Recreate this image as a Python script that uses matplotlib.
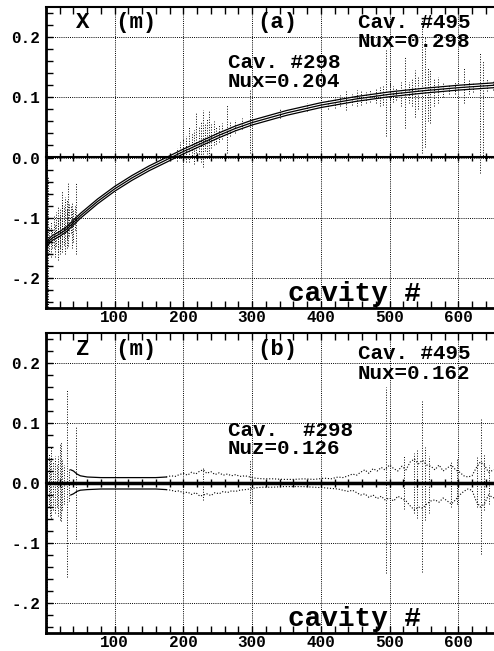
import numpy as np
import matplotlib
matplotlib.use('Agg')
import matplotlib.pyplot as plt
from matplotlib.ticker import MultipleLocator

# --- panel (a): horizontal centroid X along the linac ---
x_cav = [0, 5, 10, 20, 30, 40, 50, 75, 100, 125, 150, 175, 200, 225, 250, 275,
         300, 350, 400, 450, 500, 550, 600, 652]
x_centroid = [-0.148, -0.138, -0.133, -0.127, -0.119, -0.108, -0.097, -0.073,
              -0.052, -0.034, -0.018, -0.004, 0.010, 0.023, 0.036, 0.048,
              0.058, 0.074, 0.087, 0.097, 0.105, 0.111, 0.116, 0.120]
x_band = 0.004  # half width of the solid band around the centroid

# dotted envelope of the mismatched beam (cavity, upper, lower)
xn_cav = [1, 3, 5, 7, 9, 11, 13, 15, 17, 18, 20, 21, 23, 24, 26, 28, 30, 31, 32, 34,
          36, 38, 40, 42, 44,
          190, 195, 200, 204, 208, 212, 215, 219, 222, 225, 229, 232, 235, 237, 240,
          244, 248, 252, 256, 263, 268, 275, 285, 297,
          340, 380, 410, 420, 428, 437, 445, 452, 458, 465, 472, 480, 486, 490, 495,
          500, 505, 510, 516, 523, 528, 533, 537, 542, 547, 552, 556, 559, 564, 571,
          578, 586, 595, 608, 615, 622, 632, 636, 642, 650]
xn_hi = [0.030, -0.033, -0.115, -0.105, -0.120, -0.095, -0.110, -0.091, -0.100, -0.083,
         -0.095, -0.086, -0.075, -0.056, -0.080, -0.066, -0.070, -0.085, -0.040, -0.075,
         -0.080, -0.075, -0.085, -0.080, -0.040,
         0.015, 0.025, 0.030, 0.035, 0.051, 0.040, 0.045, 0.075, 0.050, 0.060, 0.079,
         0.055, 0.065, 0.078, 0.055, 0.060, 0.052, 0.055, 0.058, 0.088, 0.060, 0.062,
         0.065, 0.112,
         0.080, 0.090, 0.098, 0.100, 0.103, 0.112, 0.105, 0.112, 0.110, 0.108, 0.112,
         0.115, 0.118, 0.120, 0.178, 0.129, 0.118, 0.115, 0.125, 0.167, 0.125, 0.130,
         0.145, 0.135, 0.228, 0.200, 0.150, 0.145, 0.130, 0.134, 0.125, 0.122, 0.125,
         0.150, 0.128, 0.125, 0.173, 0.160, 0.130, 0.128]
xn_lo = [-0.300, -0.300, -0.160, -0.165, -0.150, -0.150, -0.165, -0.147, -0.170, -0.157,
         -0.150, -0.160, -0.140, -0.157, -0.145, -0.160, -0.150, -0.135, -0.147, -0.130,
         -0.125, -0.150, -0.140, -0.120, -0.160,
         -0.005, 0.000, -0.005, -0.008, -0.007, 0.000, -0.010, 0.000, 0.005, -0.008,
         -0.015, 0.010, 0.005, 0.003, 0.015, 0.020, 0.022, 0.025, 0.030, 0.008, 0.035,
         0.040, 0.048, 0.008,
         0.066, 0.078, 0.080, 0.082, 0.085, 0.079, 0.088, 0.085, 0.088, 0.090, 0.092,
         0.090, 0.085, 0.088, 0.035, 0.079, 0.092, 0.095, 0.085, 0.049, 0.090, 0.085,
         0.068, 0.080, 0.008, 0.018, 0.060, 0.057, 0.085, 0.090, 0.100, 0.105, 0.105,
         0.090, 0.105, 0.108, -0.025, 0.000, 0.110, 0.112]

# --- panel (b): vertical Z ---
z_smooth_cav = [36, 40, 45, 50, 60, 80, 100, 130, 160, 175]
z_smooth_hi = [0.022, 0.020, 0.015, 0.012, 0.010, 0.009, 0.009, 0.009, 0.009, 0.010]
z_smooth_lo = [-0.020, -0.018, -0.014, -0.012, -0.011, -0.010, -0.010, -0.010, -0.010, -0.011]

z_env_cav = [175, 182, 188, 194, 200, 206, 212, 218, 224, 229, 234, 240, 246, 252, 258,
             264, 270, 276, 282, 290, 297, 305, 315, 330, 345, 360, 375, 390, 405, 415,
             425, 432, 440, 446, 452, 458, 464, 470, 476, 482, 488, 493, 500, 506, 512,
             518, 524, 530, 536, 542, 548, 554, 560, 566, 572, 578, 584, 590, 596, 602,
             608, 614, 620, 626, 632, 638, 644, 652]
z_env_hi = [0.010, 0.012, 0.011, 0.014, 0.016, 0.013, 0.018, 0.015, 0.020, 0.022, 0.016,
            0.019, 0.014, 0.017, 0.013, 0.015, 0.012, 0.014, 0.011, 0.012, 0.010, 0.008,
            0.007, 0.007, 0.006, 0.006, 0.007, 0.006, 0.008, 0.007, 0.010, 0.009, 0.012,
            0.015, 0.013, 0.018, 0.022, 0.016, 0.024, 0.020, 0.026, 0.022, 0.030, 0.024,
            0.020, 0.028, 0.022, 0.035, 0.040, 0.032, 0.038, 0.030, 0.028, 0.022, 0.030,
            0.020, 0.025, 0.030, 0.022, 0.018, 0.012, 0.010, 0.012, 0.025, 0.035, 0.030,
            0.018, 0.022]
z_env_lo = [-0.011, -0.012, -0.014, -0.013, -0.017, -0.015, -0.019, -0.016, -0.022, -0.020,
            -0.018, -0.021, -0.016, -0.018, -0.014, -0.016, -0.013, -0.014, -0.012, -0.011,
            -0.010, -0.008, -0.007, -0.007, -0.006, -0.006, -0.006, -0.007, -0.008, -0.009,
            -0.010, -0.012, -0.014, -0.012, -0.016, -0.020, -0.018, -0.024, -0.020, -0.026,
            -0.022, -0.028, -0.025, -0.030, -0.022, -0.026, -0.030, -0.038, -0.045, -0.040,
            -0.042, -0.035, -0.030, -0.028, -0.032, -0.025, -0.030, -0.035, -0.028, -0.020,
            -0.014, -0.010, -0.012, -0.030, -0.040, -0.035, -0.020, -0.025]

zn_cav = [2, 4, 6, 8, 10, 13, 16, 18, 20, 22, 24, 26, 31, 34, 44,
          229, 297, 495, 521, 535, 540, 547, 552, 558, 590, 598, 627, 633, 638, 645]
zn_hi = [0.098, 0.049, 0.040, 0.060, 0.035, 0.045, 0.030, 0.045, 0.067, 0.068, 0.040,
         0.030, 0.155, 0.025, 0.093,
         0.027, 0.038, 0.160, 0.047, 0.050, 0.055, 0.137, 0.060, 0.045, 0.035, 0.040,
         0.045, 0.107, 0.048, 0.030]
zn_lo = [-0.300, -0.040, -0.055, -0.058, -0.045, -0.050, -0.040, -0.055, -0.062, -0.064,
         -0.045, -0.035, -0.157, -0.030, -0.094,
         -0.028, -0.033, -0.150, -0.043, -0.050, -0.058, -0.149, -0.062, -0.050, -0.040,
         -0.035, -0.040, -0.118, -0.045, -0.035]

yticks = [-0.2, -0.1, 0.0, 0.1, 0.2]
ytick_labels = ['-.2', '-.1', '0.0', '0.1', '0.2']
xticks = [100, 200, 300, 400, 500, 600]

mono = 'Liberation Mono'
W, H = 494, 651
fig = plt.figure(figsize=(W / 100, H / 100), dpi=100)
ax_a = fig.add_axes([46 / W, 1 - 308 / H, 1 - 46 / W, 301 / H])
ax_b = fig.add_axes([46 / W, 1 - 633 / H, 1 - 46 / W, 300 / H])

dot = (0, (1, 1.2))


def style_axes(ax):
    ax.set_xlim(0, 652)
    ax.set_ylim(-0.25, 0.25)
    ax.set_xticks(xticks)
    ax.xaxis.set_minor_locator(MultipleLocator(20))
    ax.set_yticks(yticks)
    ax.set_yticklabels(ytick_labels)
    ax.yaxis.set_minor_locator(MultipleLocator(0.02))
    ax.tick_params(which='both', direction='in', top=True, right=False,
                   length=5, width=1, labelsize=11.5)
    ax.tick_params(axis='x', pad=1.5)
    ax.tick_params(axis='y', pad=4)
    for lab in ax.get_xticklabels() + ax.get_yticklabels():
        lab.set_fontfamily(mono)
        lab.set_fontweight('bold')
    ax.grid(True, which='major', color='black', linestyle=dot, linewidth=0.7)
    ax.spines['right'].set_visible(False)
    ax.spines['left'].set_linewidth(2)
    ax.spines['top'].set_linewidth(1.5)
    ax.spines['bottom'].set_linewidth(2)
    # axis line with ticks through y = 0
    mid = ax.secondary_xaxis(0.5)
    mid.set_xticks(xticks)
    mid.xaxis.set_minor_locator(MultipleLocator(20))
    mid.tick_params(which='both', direction='inout', length=6, width=1,
                    labelbottom=False, labeltop=False)
    mid.spines['bottom'].set_linewidth(1.5)
    mid.spines['top'].set_linewidth(1.5)


style_axes(ax_a)
style_axes(ax_b)

# panel (a)
xc = np.array(x_centroid)
for off in (-x_band, 0.0, x_band):
    ax_a.plot(x_cav, xc + off, color='black', lw=0.9)
ax_a.vlines(xn_cav, xn_lo, xn_hi, colors='black', linestyles='dotted', lw=0.7)

txt = dict(fontfamily=mono, fontweight='bold', va='baseline', color='black')
ax_a.text(44, 0.215, 'X  (m)', fontsize=16, **txt)
ax_a.text(307, 0.215, '(a)', fontsize=16, **txt)
ax_a.text(454, 0.215, 'Cav. #495', fontsize=15, **txt)
ax_a.text(454, 0.183, 'Nux=0.298', fontsize=15, **txt)
ax_a.text(265, 0.149, 'Cav. #298', fontsize=15, **txt)
ax_a.text(265, 0.117, 'Nux=0.204', fontsize=15, **txt)
ax_a.text(352, -0.238, 'cavity #', fontsize=20, **txt)

# panel (b)
ax_b.axhline(0, color='black', lw=2.5)
ax_b.plot(z_smooth_cav, z_smooth_hi, color='black', lw=0.9)
ax_b.plot(z_smooth_cav, z_smooth_lo, color='black', lw=0.9)
ax_b.plot(z_env_cav, z_env_hi, color='black', lw=0.8, linestyle='dotted')
ax_b.plot(z_env_cav, z_env_lo, color='black', lw=0.8, linestyle='dotted')
ax_b.vlines(zn_cav, zn_lo, zn_hi, colors='black', linestyles='dotted', lw=0.7)

ax_b.text(44, 0.214, 'Z  (m)', fontsize=16, **txt)
ax_b.text(307, 0.214, '(b)', fontsize=16, **txt)
ax_b.text(454, 0.206, 'Cav. #495', fontsize=15, **txt)
ax_b.text(454, 0.174, 'Nux=0.162', fontsize=15, **txt)
ax_b.text(265, 0.079, 'Cav.  #298', fontsize=15, **txt)
ax_b.text(265, 0.049, 'Nuz=0.126', fontsize=15, **txt)
ax_b.text(352, -0.239, 'cavity #', fontsize=20, **txt)

fig.savefig('out.png', dpi=100)
